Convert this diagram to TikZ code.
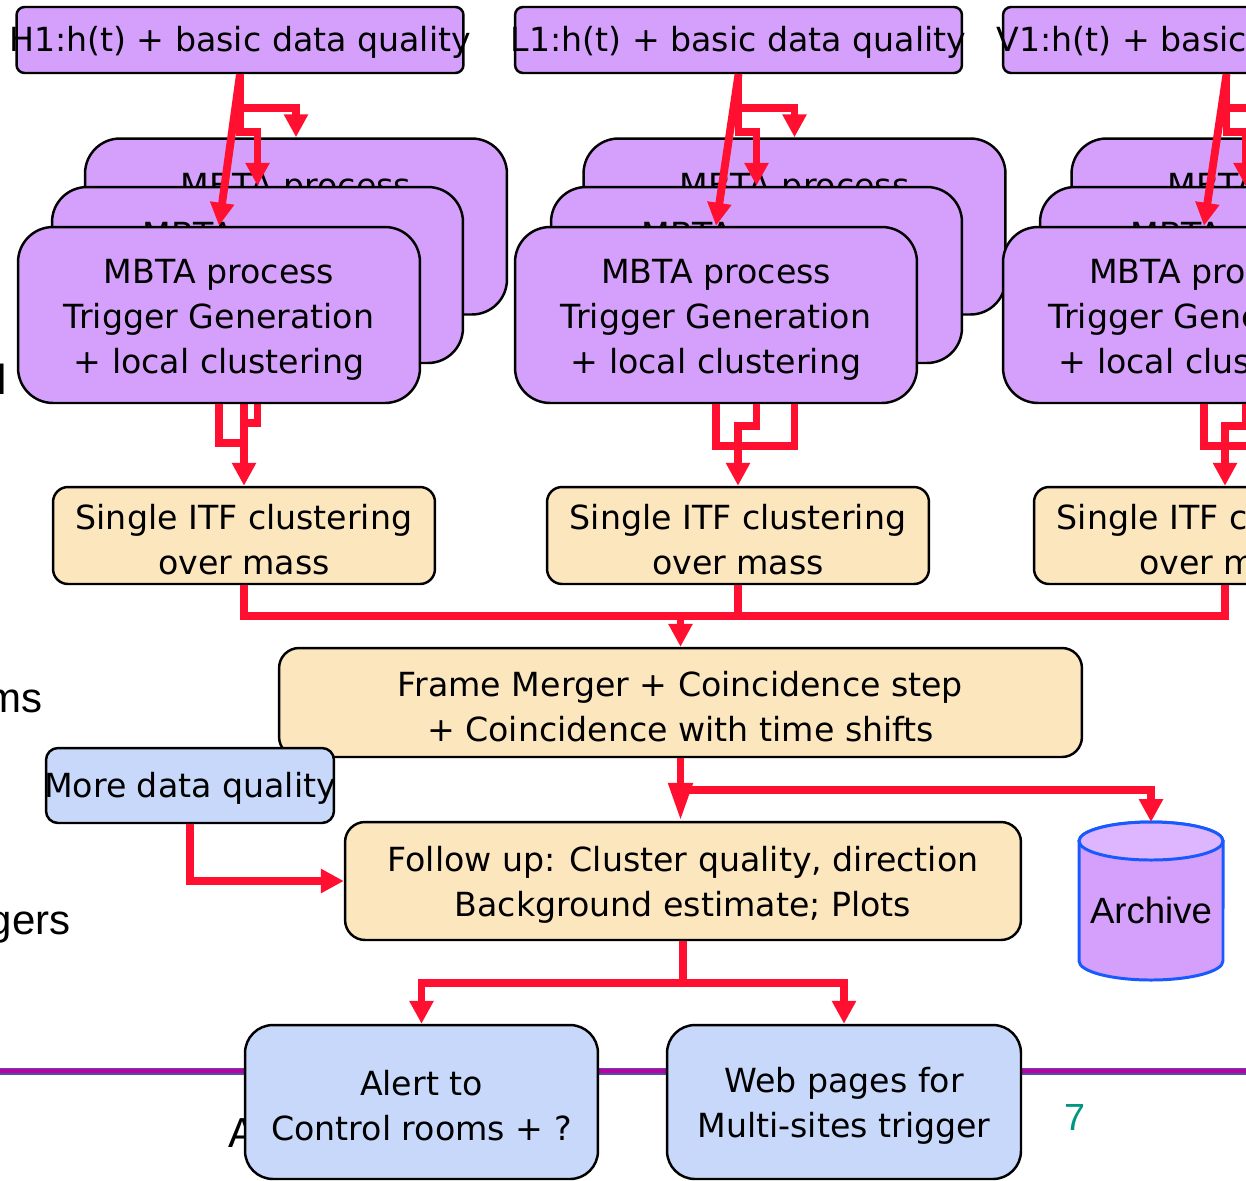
\documentclass[tikz,border=0pt]{standalone}
\usepackage{fontspec}
\setmainfont{DejaVu Sans}
\newfontfamily\arialf{Liberation Sans}
\usetikzlibrary{arrows.meta,calc}
\definecolor{purp}{RGB}{213,160,252}
\definecolor{purplt}{RGB}{222,182,255}
\definecolor{itfcol}{RGB}{252,230,190}
\definecolor{bluef}{RGB}{200,216,250}
\definecolor{redl}{RGB}{255,16,48}
\definecolor{archblue}{RGB}{25,90,255}
\definecolor{magl}{RGB}{190,0,160}
\definecolor{navl}{RGB}{80,80,170}
\definecolor{tealc}{RGB}{0,150,130}
\newcommand\zw[1]{\makebox[0pt][c]{\rule{0pt}{17.5pt}#1}}
\newcommand\tup{\rule{0pt}{19pt}}
\begin{document}
\begin{tikzpicture}[x=0.02cm,y=-0.02cm,
  box/.style={draw=black, line width=1.4pt, inner sep=0pt, align=center,
    font=\fontsize{18.9pt}{25.6pt}\selectfont},
  topbox/.style={box, fill=purp, rounded corners=0.16cm, minimum width=8.94cm, minimum height=1.32cm},
  mbta/.style={box, fill=purp, rounded corners=0.7cm, minimum height=3.52cm},
  mbtatext/.style={inner sep=0pt, anchor=base, font=\fontsize{18.9pt}{25.6pt}\selectfont},
  itf/.style={box, fill=itfcol, rounded corners=0.3cm, minimum width=7.64cm, minimum height=1.94cm},
  tanbox/.style={box, fill=itfcol, rounded corners=0.4cm},
  bluebox/.style={box, fill=bluef},
  conn/.style={draw=redl, line width=4.5pt},
  arr/.style={conn, -{Triangle[width=0.46cm,length=0.46cm]}},
  arrlong/.style={conn, -{Triangle[width=0.46cm,length=0.76cm]}},
  bgtext/.style={font=\arialf\fontsize{23.9pt}{28pt}\selectfont, inner sep=0pt}]

\useasboundingbox (0,0) rectangle (1246,1180);
\clip (0,0) rectangle (1246,1180);

% background slide content
\node[bgtext, anchor=base east] (bl) at (7,394) {l};
\node[bgtext, anchor=base east] (bms) at (43,712) {ms};
\node[bgtext, anchor=base east] (bgers) at (71,934) {gers};
\node[bgtext, anchor=base west] (ba) at (228,1147) {A};
\draw[draw=navl, line width=4pt] (0,1071) -- (1246,1071);
\draw[draw=magl, line width=2pt] (0,1071) -- (1246,1071);
\node[font=\arialf\fontsize{21.5pt}{24pt}\selectfont, text=tealc, anchor=base, inner sep=0pt] (pg) at (1075,1130) {7};

% top boxes
\node[topbox] (h1) at (240,40) {\zw{H1:h(t) + basic data quality}};
\node[topbox] (l1) at (738.5,40) {\zw{L1:h(t) + basic data quality}};
\node[topbox] (v1) at (1226.5,40) {\zw{V1:h(t) + basic\phantom{ data quality}}};

% ---------- H1 stack
\node[mbta, minimum width=8.44cm] (hb) at (296,226.5) {};
\node[mbtatext] (hbt) at (296,197) {MBTA process};
\node[mbta, minimum width=8.22cm] (hm) at (257.5,275) {};
\node[mbtatext] (hmt) at (257.5,246) {MBTA process};
\node[itf] (hitf) at (244,535.5) {\tup Single ITF clustering\\over mass};
\draw[arr] (hb.south) -- ++(0,75) -| (hitf.north);
\draw[conn] (hm.south) |- ($(hitf.north)+(0,-63)$);
\node[mbta, minimum width=8.04cm] (hf) at (219,315) {\tup MBTA process\\Trigger Generation\\+ local clustering};
\draw[conn] (hf.south) |- ($(hitf.north)+(0,-43)$);
\draw[arr] (h1.south) -- ++(0,34) -| (hb.north);
\draw[arr] (h1.south) -- ++(0,58) -| (hm.north);
\draw[arr] (h1.south) -- (hf.north);

% ---------- L1 stack
\node[mbta, minimum width=8.44cm] (lb) at (794.5,226.5) {};
\node[mbtatext] (lbt) at (794.5,197) {MBTA process};
\node[mbta, minimum width=8.22cm] (lm) at (756.5,275) {};
\node[mbtatext] (lmt) at (756.5,246) {MBTA process};
\node[itf] (litf) at (738,535.5) {\tup Single ITF clustering\\over mass};
\node[mbta, minimum width=8.04cm] (lf) at (716,315) {\tup MBTA process\\Trigger Generation\\+ local clustering};
\draw[conn] (lb.south) ++(0,88) -- ++(0,42) -| (lf.south);
\draw[arr] (lm.south) ++(0,40) -- ++(0,22) -| (litf.north);
\draw[arr] (l1.south) -- ++(0,34) -| (lb.north);
\draw[arr] (l1.south) -- ++(0,58) -| (lm.north);
\draw[arr] (l1.south) -- (lf.north);

% ---------- V1 stack
\node[mbta, minimum width=8.44cm] (vb) at (1282.5,226.5) {};
\node[mbtatext] (vbt) at (1282.5,197) {MBTA\phantom{ process}};
\node[mbta, minimum width=8.22cm] (vm) at (1245.5,275) {};
\node[mbtatext] (vmt) at (1245.5,246) {MBTA\phantom{ process}};
\node[itf] (vitf) at (1225,535.5) {\tup Single ITF c\phantom{lustering}\\over m\phantom{ass}};
\node[mbta, minimum width=8.04cm] (vf) at (1204,315) {\tup MBTA pro\phantom{cess}\\Trigger Gene\phantom{ration}\\+ local clus\phantom{tering}};
\draw[conn] (vb.south) ++(0,88) -- ++(0,42) -| (vf.south);
\draw[arr] (vm.south) ++(0,40) -- ++(0,22) -| (vitf.north);
\draw[arr] (v1.south) -- ++(0,34) -| (vb.north);
\draw[arr] (v1.south) -- ++(0,58) -| (vm.north);
\draw[arr] (v1.south) -- (vf.north);

% ---------- merging
\node[tanbox, minimum width=16.06cm, minimum height=2.18cm] (frame) at (680.5,702.5)
  {\tup Frame Merger + Coincidence step\\+ Coincidence with time shifts};
\coordinate (mj) at ($(hitf.south)+(0,31)$);
\draw[conn] (hitf.south) -- (mj) -| (vitf.south);
\draw[conn] (litf.south) -- (litf.south |- mj);
\draw[arr] (mj -| frame.north) -- (frame.north);

\node[bluebox, rounded corners=0.24cm, minimum width=5.76cm, minimum height=1.5cm] (mdq) at (190,785.5)
  {\zw{More data quality}};
\node[tanbox, minimum width=13.52cm, minimum height=2.36cm] (fu) at (683,881)
  {\tup Follow up: Cluster quality, direction\\Background estimate; Plots};

% archive cylinder
\filldraw[fill=purp, draw=archblue, line width=1.7pt]
  (1079,841) -- (1079,961) arc[start angle=180, end angle=360, x radius=1.44cm, y radius=0.38cm]
  -- (1223,841) arc[start angle=0, end angle=180, x radius=1.44cm, y radius=0.38cm] -- cycle;
\filldraw[fill=purplt, draw=archblue, line width=1.7pt] (1151,841) ellipse [x radius=1.44cm, y radius=0.38cm];
\coordinate (arch) at (1151,822);
\node[font=\arialf\fontsize{20.8pt}{24pt}\selectfont, inner sep=0pt] (archt) at (1151,910) {Archive};

\draw[arrlong] (frame.south) -- (frame.south |- fu.north);
\draw[arr] ($(frame.south)+(0,32)$) -| (arch);
\draw[arr] (mdq.south) |- (fu.west);

\node[bluebox, rounded corners=0.56cm, minimum width=7.06cm, minimum height=3.08cm] (alert) at (421.5,1102)
  {\tup Alert to\\Control rooms + ?};
\node[bluebox, rounded corners=0.56cm, minimum width=7.08cm, minimum height=3.08cm] (web) at (844,1102)
  {\tup Web pages for\\Multi-sites trigger};
\draw[arr] (fu.south) -- ++(0,42) -| (alert.north);
\draw[arr] (fu.south) -- ++(0,42) -| (web.north);
\end{tikzpicture}
\end{document}
